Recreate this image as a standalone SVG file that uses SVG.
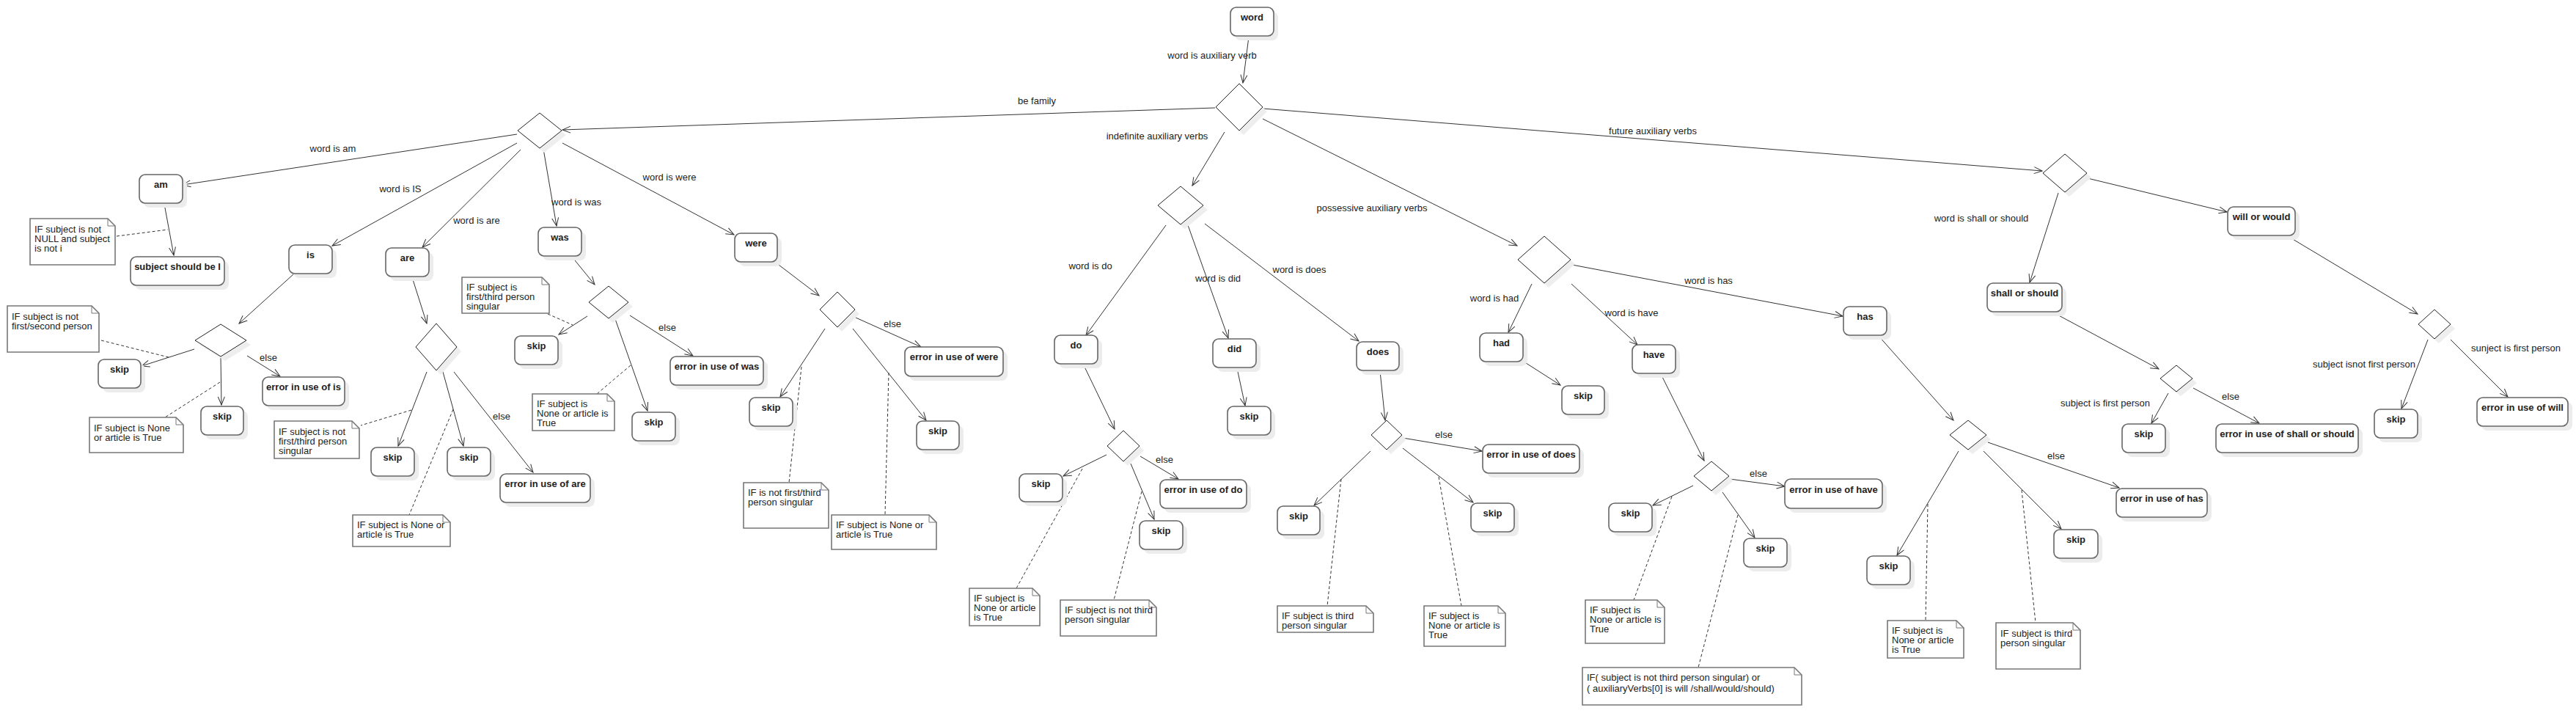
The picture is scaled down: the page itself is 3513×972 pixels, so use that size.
<svg xmlns="http://www.w3.org/2000/svg" width="3513" height="972" viewBox="0 0 3513 972">
<style>
.sh{fill:#ececec}
.bx{fill:#fff;stroke:#666;stroke-width:1.6}
.bt{font-family:"Liberation Sans",Arial,sans-serif;font-size:13px;font-weight:bold;fill:#222;text-anchor:middle}
.dm{fill:#fff;stroke:#222;stroke-width:1}
.dsh{fill:#eee}
.nt{fill:#fff;stroke:#777;stroke-width:1.6}
.nf{fill:none;stroke:#777;stroke-width:1}
.ntx{font-family:"Liberation Sans",Arial,sans-serif;font-size:13px;fill:#222}
.e{fill:none;stroke:#333;stroke-width:1;marker-end:url(#a)}
.d{fill:none;stroke:#333;stroke-width:1;stroke-dasharray:4 3}
.l{font-family:"Liberation Sans",Arial,sans-serif;font-size:13px;fill:#222;text-anchor:middle}
</style>
<defs>
<marker id="a" markerWidth="13" markerHeight="11" refX="12" refY="5.5" orient="auto" markerUnits="userSpaceOnUse"><path d="M1,1 L12,5.5 L1,10" fill="none" stroke="#333" stroke-width="1"/></marker>
</defs>
<rect width="3513" height="972" fill="#fff"/>

<g id="connectors">
<path class="e" d="M1703,50 L1695,113"/>
<path class="e" d="M1657,147 L767,177"/>
<path class="e" d="M1670,180 L1626,253"/>
<path class="e" d="M1722,162 L2069,335"/>
<path class="e" d="M1722,148 L2785,233"/>
<path class="e" d="M705,183 L249,252"/>
<path class="e" d="M705,195 L453,335"/>
<path class="e" d="M710,204 L576,337"/>
<path class="e" d="M741,203 L759,308"/>
<path class="e" d="M767,195 L1001,320"/>
<path class="e" d="M224,278 L237,348"/>
<path class="e" d="M400,374 L326,441"/>
<path class="e" d="M265,476 L193,499"/>
<path class="e" d="M301,486 L302,552"/>
<path class="e" d="M337,485 L382,513"/>
<path class="e" d="M562,378 L582,441"/>
<path class="e" d="M582,507 L543,608"/>
<path class="e" d="M604,507 L632,608"/>
<path class="e" d="M619,507 L727,644"/>
<path class="e" d="M780,350 L811,388"/>
<path class="e" d="M801,431 L762,456"/>
<path class="e" d="M839,435 L883,560"/>
<path class="e" d="M859,430 L945,485"/>
<path class="e" d="M1058,358 L1117,403"/>
<path class="e" d="M1125,448 L1064,541"/>
<path class="e" d="M1163,448 L1263,573"/>
<path class="e" d="M1167,433 L1256,473"/>
<path class="e" d="M1590,307 L1481,457"/>
<path class="e" d="M1620,307 L1675,461"/>
<path class="e" d="M1643,305 L1853,465"/>
<path class="e" d="M1478,498 L1520,585"/>
<path class="e" d="M1509,620 L1450,649"/>
<path class="e" d="M1542,632 L1574,708"/>
<path class="e" d="M1555,622 L1607,653"/>
<path class="e" d="M1687,502 L1698,553"/>
<path class="e" d="M1882,506 L1889,573"/>
<path class="e" d="M1913,597 L2021,615"/>
<path class="e" d="M1869,615 L1792,689"/>
<path class="e" d="M1913,611 L2009,685"/>
<path class="e" d="M2089,387 L2057,453"/>
<path class="e" d="M2143,387 L2233,470"/>
<path class="e" d="M2144,361 L2513,431"/>
<path class="e" d="M2078,493 L2128,525"/>
<path class="e" d="M2265,510 L2324,628"/>
<path class="e" d="M2309,662 L2254,689"/>
<path class="e" d="M2359,653 L2434,663"/>
<path class="e" d="M2349,671 L2393,733"/>
<path class="e" d="M2562,458 L2664,573"/>
<path class="e" d="M2671,615 L2587,757"/>
<path class="e" d="M2705,615 L2811,721"/>
<path class="e" d="M2711,603 L2890,665"/>
<path class="e" d="M2807,263 L2768,385"/>
<path class="e" d="M2847,243 L3037,289"/>
<path class="e" d="M2800,426 L2944,503"/>
<path class="e" d="M2957,536 L2934,577"/>
<path class="e" d="M2991,529 L3081,577"/>
<path class="e" d="M3120,322 L3297,428"/>
<path class="e" d="M3311,463 L3275,557"/>
<path class="e" d="M3342,463 L3420,541"/>

<path class="d" d="M159,322 L229,313"/>
<path class="d" d="M138,464 L230,487"/>
<path class="d" d="M300,521 L225,569"/>
<path class="d" d="M561,559 L492,580"/>
<path class="d" d="M618,558 L558,702"/>
<path class="d" d="M747,428 L781,443"/>
<path class="d" d="M860,498 L814,537"/>
<path class="d" d="M1093,500 L1076,658"/>
<path class="d" d="M1212,508 L1207,702"/>
<path class="d" d="M1476,639 L1386,802"/>
<path class="d" d="M1557,670 L1519,818"/>
<path class="d" d="M1829,653 L1810,826"/>
<path class="d" d="M1962,650 L1993,826"/>
<path class="d" d="M2280,677 L2228,818"/>
<path class="d" d="M2370,702 L2316,910"/>
<path class="d" d="M2629,687 L2626,846"/>
<path class="d" d="M2757,668 L2776,849"/>

<text class="l" x="1653" y="80">word is auxiliary verb</text>
<text class="l" x="1414" y="142">be family</text>
<text class="l" x="1578" y="190">indefinite auxiliary verbs</text>
<text class="l" x="1871" y="288">possessive auxiliary verbs</text>
<text class="l" x="2254" y="183">future auxiliary verbs</text>
<text class="l" x="454" y="207">word is am</text>
<text class="l" x="546" y="262">word is IS</text>
<text class="l" x="650" y="305">word is are</text>
<text class="l" x="786" y="280">word is was</text>
<text class="l" x="913" y="246">word is were</text>
<text class="l" x="366" y="492">else</text>
<text class="l" x="684" y="572">else</text>
<text class="l" x="910" y="451">else</text>
<text class="l" x="1217" y="446">else</text>
<text class="l" x="1487" y="367">word is do</text>
<text class="l" x="1661" y="384">word is did</text>
<text class="l" x="1772" y="372">word is does</text>
<text class="l" x="1588" y="631">else</text>
<text class="l" x="1969" y="597">else</text>
<text class="l" x="2038" y="411">word is had</text>
<text class="l" x="2225" y="431">word is have</text>
<text class="l" x="2330" y="387">word is has</text>
<text class="l" x="2398" y="650">else</text>
<text class="l" x="2804" y="626">else</text>
<text class="l" x="2702" y="302">word is shall or should</text>
<text class="l" x="2871" y="554">subject is first person</text>
<text class="l" x="3042" y="545">else</text>
<text class="l" x="3224" y="501">subject isnot first person</text>
<text class="l" x="3431" y="479">sunject is first person</text>
</g>

<g id="n-word"><rect class="sh" x="1684" y="16" width="59" height="39" rx="8"/><rect class="bx" x="1678" y="10" width="59" height="39" rx="8"/><text class="bt" x="1707.5" y="28">word</text></g>
<g id="n-am"><rect class="sh" x="196" y="244" width="59" height="39" rx="8"/><rect class="bx" x="190" y="238" width="59" height="39" rx="8"/><text class="bt" x="219.5" y="256">am</text></g>
<g id="n-subjI"><rect class="sh" x="184" y="356" width="128" height="39" rx="8"/><rect class="bx" x="178" y="350" width="128" height="39" rx="8"/><text class="bt" x="242" y="368">subject should be I</text></g>
<g id="n-is"><rect class="sh" x="400" y="340" width="59" height="39" rx="8"/><rect class="bx" x="394" y="334" width="59" height="39" rx="8"/><text class="bt" x="423.5" y="352">is</text></g>
<g id="n-are"><rect class="sh" x="532" y="344" width="59" height="39" rx="8"/><rect class="bx" x="526" y="338" width="59" height="39" rx="8"/><text class="bt" x="555.5" y="356">are</text></g>
<g id="n-skip-is1"><rect class="sh" x="140" y="496" width="58" height="39" rx="8"/><rect class="bx" x="134" y="490" width="58" height="39" rx="8"/><text class="bt" x="163" y="508">skip</text></g>
<g id="n-skip-is2"><rect class="sh" x="280" y="560" width="58" height="39" rx="8"/><rect class="bx" x="274" y="554" width="58" height="39" rx="8"/><text class="bt" x="303" y="572">skip</text></g>
<g id="n-err-is"><rect class="sh" x="364" y="520" width="112" height="39" rx="8"/><rect class="bx" x="358" y="514" width="112" height="39" rx="8"/><text class="bt" x="414" y="532">error in use of is</text></g>
<g id="n-was"><rect class="sh" x="740" y="316" width="59" height="39" rx="8"/><rect class="bx" x="734" y="310" width="59" height="39" rx="8"/><text class="bt" x="763.5" y="328">was</text></g>
<g id="n-were"><rect class="sh" x="1008" y="324" width="58" height="39" rx="8"/><rect class="bx" x="1002" y="318" width="58" height="39" rx="8"/><text class="bt" x="1031" y="336">were</text></g>
<g id="n-skip-are1"><rect class="sh" x="512" y="616" width="59" height="39" rx="8"/><rect class="bx" x="506" y="610" width="59" height="39" rx="8"/><text class="bt" x="535.5" y="628">skip</text></g>
<g id="n-skip-are2"><rect class="sh" x="616" y="616" width="59" height="39" rx="8"/><rect class="bx" x="610" y="610" width="59" height="39" rx="8"/><text class="bt" x="639.5" y="628">skip</text></g>
<g id="n-err-are"><rect class="sh" x="688" y="652" width="123" height="39" rx="8"/><rect class="bx" x="682" y="646" width="123" height="39" rx="8"/><text class="bt" x="743.5" y="664">error in use of are</text></g>
<g id="n-skip-was1"><rect class="sh" x="708" y="464" width="59" height="39" rx="8"/><rect class="bx" x="702" y="458" width="59" height="39" rx="8"/><text class="bt" x="731.5" y="476">skip</text></g>
<g id="n-skip-was2"><rect class="sh" x="868" y="568" width="59" height="39" rx="8"/><rect class="bx" x="862" y="562" width="59" height="39" rx="8"/><text class="bt" x="891.5" y="580">skip</text></g>
<g id="n-err-was"><rect class="sh" x="920" y="492" width="127" height="39" rx="8"/><rect class="bx" x="914" y="486" width="127" height="39" rx="8"/><text class="bt" x="977.5" y="504">error in use of was</text></g>
<g id="n-skip-were1"><rect class="sh" x="1028" y="548" width="59" height="39" rx="8"/><rect class="bx" x="1022" y="542" width="59" height="39" rx="8"/><text class="bt" x="1051.5" y="560">skip</text></g>
<g id="n-skip-were2"><rect class="sh" x="1256" y="580" width="58" height="39" rx="8"/><rect class="bx" x="1250" y="574" width="58" height="39" rx="8"/><text class="bt" x="1279" y="592">skip</text></g>
<g id="n-err-were"><rect class="sh" x="1240" y="479" width="134" height="40" rx="8"/><rect class="bx" x="1234" y="473" width="134" height="40" rx="8"/><text class="bt" x="1301" y="491">error in use of were</text></g>
<g id="n-do"><rect class="sh" x="1444" y="463" width="59" height="39" rx="8"/><rect class="bx" x="1438" y="457" width="59" height="39" rx="8"/><text class="bt" x="1467.5" y="475">do</text></g>
<g id="n-did"><rect class="sh" x="1660" y="468" width="59" height="39" rx="8"/><rect class="bx" x="1654" y="462" width="59" height="39" rx="8"/><text class="bt" x="1683.5" y="480">did</text></g>
<g id="n-skip-do1"><rect class="sh" x="1396" y="652" width="59" height="38" rx="8"/><rect class="bx" x="1390" y="646" width="59" height="38" rx="8"/><text class="bt" x="1419.5" y="664">skip</text></g>
<g id="n-skip-do2"><rect class="sh" x="1560" y="716" width="59" height="39" rx="8"/><rect class="bx" x="1554" y="710" width="59" height="39" rx="8"/><text class="bt" x="1583.5" y="728">skip</text></g>
<g id="n-err-do"><rect class="sh" x="1588" y="660" width="118" height="39" rx="8"/><rect class="bx" x="1582" y="654" width="118" height="39" rx="8"/><text class="bt" x="1641" y="672">error in use of do</text></g>
<g id="n-skip-did"><rect class="sh" x="1680" y="560" width="59" height="39" rx="8"/><rect class="bx" x="1674" y="554" width="59" height="39" rx="8"/><text class="bt" x="1703.5" y="572">skip</text></g>
<g id="n-does"><rect class="sh" x="1856" y="472" width="58" height="39" rx="8"/><rect class="bx" x="1850" y="466" width="58" height="39" rx="8"/><text class="bt" x="1879" y="484">does</text></g>
<g id="n-had"><rect class="sh" x="2024" y="460" width="59" height="39" rx="8"/><rect class="bx" x="2018" y="454" width="59" height="39" rx="8"/><text class="bt" x="2047.5" y="472">had</text></g>
<g id="n-have"><rect class="sh" x="2232" y="476" width="59" height="39" rx="8"/><rect class="bx" x="2226" y="470" width="59" height="39" rx="8"/><text class="bt" x="2255.5" y="488">have</text></g>
<g id="n-has"><rect class="sh" x="2520" y="424" width="59" height="39" rx="8"/><rect class="bx" x="2514" y="418" width="59" height="39" rx="8"/><text class="bt" x="2543.5" y="436">has</text></g>
<g id="n-err-does"><rect class="sh" x="2028" y="612" width="132" height="39" rx="8"/><rect class="bx" x="2022" y="606" width="132" height="39" rx="8"/><text class="bt" x="2088" y="624">error in use of does</text></g>
<g id="n-skip-does1"><rect class="sh" x="1748" y="696" width="58" height="39" rx="8"/><rect class="bx" x="1742" y="690" width="58" height="39" rx="8"/><text class="bt" x="1771" y="708">skip</text></g>
<g id="n-skip-does2"><rect class="sh" x="2012" y="692" width="59" height="39" rx="8"/><rect class="bx" x="2006" y="686" width="59" height="39" rx="8"/><text class="bt" x="2035.5" y="704">skip</text></g>
<g id="n-skip-had"><rect class="sh" x="2136" y="532" width="58" height="39" rx="8"/><rect class="bx" x="2130" y="526" width="58" height="39" rx="8"/><text class="bt" x="2159" y="544">skip</text></g>
<g id="n-skip-have1"><rect class="sh" x="2200" y="692" width="59" height="39" rx="8"/><rect class="bx" x="2194" y="686" width="59" height="39" rx="8"/><text class="bt" x="2223.5" y="704">skip</text></g>
<g id="n-err-have"><rect class="sh" x="2440" y="659" width="133" height="40" rx="8"/><rect class="bx" x="2434" y="653" width="133" height="40" rx="8"/><text class="bt" x="2500.5" y="672">error in use of have</text></g>
<g id="n-skip-have2"><rect class="sh" x="2384" y="740" width="59" height="39" rx="8"/><rect class="bx" x="2378" y="734" width="59" height="39" rx="8"/><text class="bt" x="2407.5" y="752">skip</text></g>
<g id="n-skip-has1"><rect class="sh" x="2552" y="764" width="59" height="39" rx="8"/><rect class="bx" x="2546" y="758" width="59" height="39" rx="8"/><text class="bt" x="2575.5" y="776">skip</text></g>
<g id="n-skip-has2"><rect class="sh" x="2807" y="728" width="60" height="39" rx="8"/><rect class="bx" x="2801" y="722" width="60" height="39" rx="8"/><text class="bt" x="2831" y="740">skip</text></g>
<g id="n-err-has"><rect class="sh" x="2892" y="672" width="124" height="39" rx="8"/><rect class="bx" x="2886" y="666" width="124" height="39" rx="8"/><text class="bt" x="2948" y="684">error in use of has</text></g>
<g id="n-shall"><rect class="sh" x="2716" y="392" width="102" height="39" rx="8"/><rect class="bx" x="2710" y="386" width="102" height="39" rx="8"/><text class="bt" x="2761" y="404">shall or should</text></g>
<g id="n-will"><rect class="sh" x="3044" y="288" width="92" height="39" rx="8"/><rect class="bx" x="3038" y="282" width="92" height="39" rx="8"/><text class="bt" x="3084" y="300">will or would</text></g>
<g id="n-skip-shall"><rect class="sh" x="2900" y="584" width="59" height="39" rx="8"/><rect class="bx" x="2894" y="578" width="59" height="39" rx="8"/><text class="bt" x="2923.5" y="596">skip</text></g>
<g id="n-err-shall"><rect class="sh" x="3028" y="584" width="194" height="39" rx="8"/><rect class="bx" x="3022" y="578" width="194" height="39" rx="8"/><text class="bt" x="3119" y="596">error in use of shall or should</text></g>
<g id="n-skip-will"><rect class="sh" x="3244" y="564" width="59" height="39" rx="8"/><rect class="bx" x="3238" y="558" width="59" height="39" rx="8"/><text class="bt" x="3267.5" y="576">skip</text></g>
<g id="n-err-will"><rect class="sh" x="3384" y="548" width="124" height="39" rx="8"/><rect class="bx" x="3378" y="542" width="124" height="39" rx="8"/><text class="bt" x="3440" y="560">error in use of will</text></g>

<g id="d-main"><polygon class="dsh" points="1696,120 1728,152 1696,184 1664,152"/><polygon class="dm" points="1690,114 1722,146 1690,178 1658,146"/></g>
<g id="d-be"><polygon class="dsh" points="742,160 772,184 742,208 712,184"/><polygon class="dm" points="736,154 766,178 736,202 706,178"/></g>
<g id="d-is"><polygon class="dsh" points="307,448 342,470 307,492 272,470"/><polygon class="dm" points="301,442 336,464 301,486 266,464"/></g>
<g id="d-are"><polygon class="dsh" points="601,447 629,479 601,511 573,479"/><polygon class="dm" points="595,441 623,473 595,505 567,473"/></g>
<g id="d-was"><polygon class="dsh" points="836,396 863,418 836,440 809,418"/><polygon class="dm" points="830,390 857,412 830,434 803,412"/></g>
<g id="d-were"><polygon class="dsh" points="1148,404 1172,428 1148,452 1124,428"/><polygon class="dm" points="1142,398 1166,422 1142,446 1118,422"/></g>
<g id="d-indef"><polygon class="dsh" points="1616,260 1647,286 1616,312 1585,286"/><polygon class="dm" points="1610,254 1641,280 1610,306 1579,280"/></g>
<g id="d-do"><polygon class="dsh" points="1538,593 1560,614 1538,635 1516,614"/><polygon class="dm" points="1532,587 1554,608 1532,629 1510,608"/></g>
<g id="d-poss"><polygon class="dsh" points="2112,328 2148,360 2112,392 2076,360"/><polygon class="dm" points="2106,322 2142,354 2106,386 2070,354"/></g>
<g id="d-does"><polygon class="dsh" points="1897,579 1918,599 1897,619 1876,599"/><polygon class="dm" points="1891,573 1912,593 1891,613 1870,593"/></g>
<g id="d-have"><polygon class="dsh" points="2340,635 2364,655 2340,675 2316,655"/><polygon class="dm" points="2334,629 2358,649 2334,669 2310,649"/></g>
<g id="d-has"><polygon class="dsh" points="2690,579 2715,599 2690,619 2665,599"/><polygon class="dm" points="2684,573 2709,593 2684,613 2659,593"/></g>
<g id="d-fut"><polygon class="dsh" points="2822,216 2852,242 2822,268 2792,242"/><polygon class="dm" points="2816,210 2846,236 2816,262 2786,236"/></g>
<g id="d-shall"><polygon class="dsh" points="2974,504 2996,522 2974,540 2952,522"/><polygon class="dm" points="2968,498 2990,516 2968,534 2946,516"/></g>
<g id="d-will"><polygon class="dsh" points="3326,428 3348,448 3326,468 3304,448"/><polygon class="dm" points="3320,422 3342,442 3320,462 3298,442"/></g>

<g id="note1"><path class="nt" d="M41,298 H147 L157,308 V361 H41 Z"/><path class="nf" d="M147,298 V308 H157"/><text class="ntx" x="47" y="317">IF subject is not</text><text class="ntx" x="47" y="330">NULL and subject</text><text class="ntx" x="47" y="343">is not i</text></g>
<g id="note2"><path class="nt" d="M10,417 H125 L135,427 V480 H10 Z"/><path class="nf" d="M125,417 V427 H135"/><text class="ntx" x="16" y="436">IF subject is not</text><text class="ntx" x="16" y="449">first/second person</text></g>
<g id="note3"><path class="nt" d="M122,569 H240 L250,579 V617 H122 Z"/><path class="nf" d="M240,569 V579 H250"/><text class="ntx" x="128" y="588">IF  subject is None</text><text class="ntx" x="128" y="601">or article is True</text></g>
<g id="note4"><path class="nt" d="M374,574 H480 L490,584 V625 H374 Z"/><path class="nf" d="M480,574 V584 H490"/><text class="ntx" x="380" y="593">IF subject is not</text><text class="ntx" x="380" y="606">first/third person</text><text class="ntx" x="380" y="619">singular</text></g>
<g id="note5"><path class="nt" d="M481,702 H604 L614,712 V745 H481 Z"/><path class="nf" d="M604,702 V712 H614"/><text class="ntx" x="487" y="720">IF subject is None or</text><text class="ntx" x="487" y="733">article is True</text></g>
<g id="note6"><path class="nt" d="M630,378 H739 L749,388 V427 H630 Z"/><path class="nf" d="M739,378 V388 H749"/><text class="ntx" x="636" y="396">IF subject is</text><text class="ntx" x="636" y="409">first/third person</text><text class="ntx" x="636" y="422">singular</text></g>
<g id="note7"><path class="nt" d="M726,537 H828 L838,547 V587 H726 Z"/><path class="nf" d="M828,537 V547 H838"/><text class="ntx" x="732" y="555">IF  subject is</text><text class="ntx" x="732" y="568">None or article is</text><text class="ntx" x="732" y="581">True</text></g>
<g id="note8"><path class="nt" d="M1014,658 H1120 L1130,668 V720 H1014 Z"/><path class="nf" d="M1120,658 V668 H1130"/><text class="ntx" x="1020" y="676">IF is not first/third</text><text class="ntx" x="1020" y="689">person singular</text></g>
<g id="note9"><path class="nt" d="M1134,702 H1267 L1277,712 V749 H1134 Z"/><path class="nf" d="M1267,702 V712 H1277"/><text class="ntx" x="1140" y="720">IF subject is None or</text><text class="ntx" x="1140" y="733">article is True</text></g>
<g id="note10"><path class="nt" d="M1322,802 H1408 L1418,812 V853 H1322 Z"/><path class="nf" d="M1408,802 V812 H1418"/><text class="ntx" x="1328" y="820">IF subject is</text><text class="ntx" x="1328" y="833">None or article</text><text class="ntx" x="1328" y="846">is True</text></g>
<g id="note11"><path class="nt" d="M1446,818 H1567 L1577,828 V867 H1446 Z"/><path class="nf" d="M1567,818 V828 H1577"/><text class="ntx" x="1452" y="836">IF subject is not third</text><text class="ntx" x="1452" y="849">person singular</text></g>
<g id="note12"><path class="nt" d="M1742,826 H1863 L1873,836 V862 H1742 Z"/><path class="nf" d="M1863,826 V836 H1873"/><text class="ntx" x="1748" y="844">IF subject is  third</text><text class="ntx" x="1748" y="857">person singular</text></g>
<g id="note13"><path class="nt" d="M1942,826 H2043 L2053,836 V881 H1942 Z"/><path class="nf" d="M2043,826 V836 H2053"/><text class="ntx" x="1948" y="844">IF subject is</text><text class="ntx" x="1948" y="857">None or article is</text><text class="ntx" x="1948" y="870">True</text></g>
<g id="note14"><path class="nt" d="M2162,818 H2260 L2270,828 V877 H2162 Z"/><path class="nf" d="M2260,818 V828 H2270"/><text class="ntx" x="2168" y="836">IF subject is</text><text class="ntx" x="2168" y="849">None or article is</text><text class="ntx" x="2168" y="862">True</text></g>
<g id="note15"><path class="nt" d="M2158,910 H2447 L2457,920 V961 H2158 Z"/><path class="nf" d="M2447,910 V920 H2457"/><text class="ntx" x="2164" y="928">IF( subject is not  third person singular) or</text><text class="ntx" x="2164" y="943">( auxiliaryVerbs[0] is will /shall/would/should)</text></g>
<g id="note16"><path class="nt" d="M2574,846 H2668 L2678,856 V897 H2574 Z"/><path class="nf" d="M2668,846 V856 H2678"/><text class="ntx" x="2580" y="864">IF subject is</text><text class="ntx" x="2580" y="877">None or article</text><text class="ntx" x="2580" y="890">is True</text></g>
<g id="note17"><path class="nt" d="M2722,849 H2827 L2837,859 V912 H2722 Z"/><path class="nf" d="M2827,849 V859 H2837"/><text class="ntx" x="2728" y="868">IF subject is  third</text><text class="ntx" x="2728" y="881">person singular</text></g>
</svg>
